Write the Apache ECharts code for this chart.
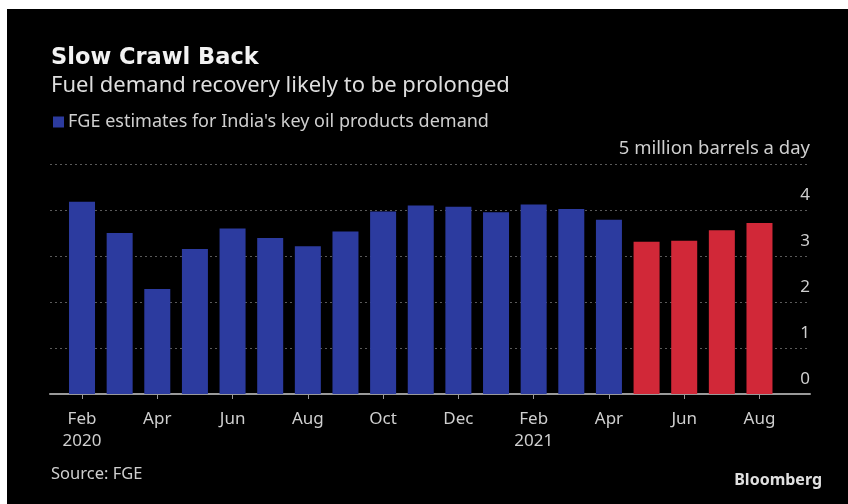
<!DOCTYPE html>
<html>
<head>
<meta charset="utf-8">
<title>Slow Crawl Back</title>
<script src="https://cdn.jsdelivr.net/npm/echarts@6/dist/echarts.min.js"></script>
<style>
  html, body { margin: 0; padding: 0; background: #ffffff; }
  #chart { position: absolute; left: 7px; top: 9px; width: 841px; height: 495px; background: #000000; }
</style>
</head>
<body>
<div id="chart"></div>
<script>
// Monthly labels, Feb 2020 to Aug 2021 (every other one is shown on the axis)
const months = ['Feb\n2020', 'Mar', 'Apr', 'May', 'Jun', 'Jul', 'Aug', 'Sep', 'Oct', 'Nov', 'Dec', 'Jan',
                'Feb\n2021', 'Mar', 'Apr', 'May', 'Jun', 'Jul', 'Aug'];
// Key oil products demand, million barrels a day
const demand = [4.18, 3.50, 2.28, 3.15, 3.60, 3.39, 3.21, 3.53, 3.97, 4.10, 4.07, 3.95,
                4.12, 4.02, 3.79, 3.31, 3.33, 3.56, 3.72];
// Index of the first forecast month (May 2021)
const forecastFrom = 15;
const yTicks = [0, 1, 2, 3, 4, 5];
const unitLabel = 'million barrels a day';
const seriesName = "FGE estimates for India's key oil products demand";

const BLUE = '#2c3b9f';
const RED = '#d12838';
const TEXT = '#cfcfcf';
const FONT = '"Noto Sans", sans-serif';

const chart = echarts.init(document.getElementById('chart'));

const barData = demand.map((v, i) => ({
  value: v,
  itemStyle: { color: i >= forecastFrom ? RED : BLUE }
}));

chart.setOption({
  backgroundColor: '#000000',
  animation: false,
  textStyle: { fontFamily: FONT },
  title: {
    left: 44,
    top: 38,
    padding: 0,
    text: 'Slow Crawl Back',
    subtext: 'Fuel demand recovery likely to be prolonged',
    itemGap: 5,
    textStyle: { color: '#f2f2f2', fontSize: 22.5, fontWeight: 'bold', fontFamily: '"DejaVu Sans", sans-serif' },
    subtextStyle: { color: '#dedede', fontSize: 22, fontFamily: FONT }
  },
  legend: {
    left: 46,
    top: 104,
    icon: 'rect',
    itemWidth: 11,
    itemHeight: 11,
    itemGap: 7,
    padding: 0,
    textStyle: { color: TEXT, fontSize: 18, fontFamily: FONT, padding: [0, 0, 0, -1] },
    data: [seriesName]
  },
  grid: [
    { left: 56.2, right: 69.7, top: 155, bottom: 110 },
    { left: 43, right: 38, top: 155, bottom: 110 }
  ],
  xAxis: [
    {
      type: 'category',
      gridIndex: 0,
      data: months,
      boundaryGap: true,
      axisLine: { show: false },
      axisTick: {
        show: true, alignWithLabel: true, interval: 1, length: 5,
        lineStyle: { color: '#9a9a9a', width: 1 }
      },
      axisLabel: {
        interval: 1, color: TEXT, fontSize: 17, lineHeight: 22, margin: 14, fontFamily: FONT
      }
    },
    {
      type: 'value',
      gridIndex: 1,
      min: 0, max: 1,
      axisLine: { show: true, onZero: false, lineStyle: { color: '#9a9a9a', width: 2 } },
      axisTick: { show: false },
      axisLabel: { show: false },
      splitLine: { show: false }
    }
  ],
  yAxis: [
    {
      type: 'value',
      gridIndex: 0,
      min: yTicks[0], max: yTicks[yTicks.length - 1], interval: 1,
      axisLine: { show: false }, axisTick: { show: false },
      axisLabel: { show: false }, splitLine: { show: false }
    },
    {
      type: 'value',
      gridIndex: 1,
      position: 'right',
      min: yTicks[0], max: yTicks[yTicks.length - 1], interval: 1,
      axisLine: { show: false }, axisTick: { show: false },
      splitLine: { show: true, lineStyle: { color: '#5a5a5a', width: 1, type: [2, 3] } },
      axisLabel: {
        inside: true, margin: 0, color: TEXT, fontSize: 17, fontFamily: FONT,
        verticalAlign: 'bottom', padding: [0, 0, 6, 0],
        formatter: v => (v === yTicks[yTicks.length - 1] ? '{u|' + v + ' ' + unitLabel + '}' : String(v)),
        rich: { u: { color: TEXT, fontSize: 18.5, fontFamily: FONT } }
      }
    }
  ],
  series: [
    {
      name: seriesName,
      type: 'bar',
      xAxisIndex: 0,
      yAxisIndex: 0,
      barWidth: 26,
      itemStyle: { color: BLUE },
      data: barData
    }
  ],
  graphic: [
    {
      type: 'text', left: 44, top: 457,
      style: { text: 'Source: FGE', fill: TEXT, fontSize: 16.5, fontFamily: FONT }
    },
    {
      type: 'text', right: 26, top: 463,
      style: { text: 'Bloomberg', fill: '#e0e0e0', fontSize: 16, fontWeight: 'bold', fontFamily: FONT }
    }
  ]
});
</script>
</body>
</html>
